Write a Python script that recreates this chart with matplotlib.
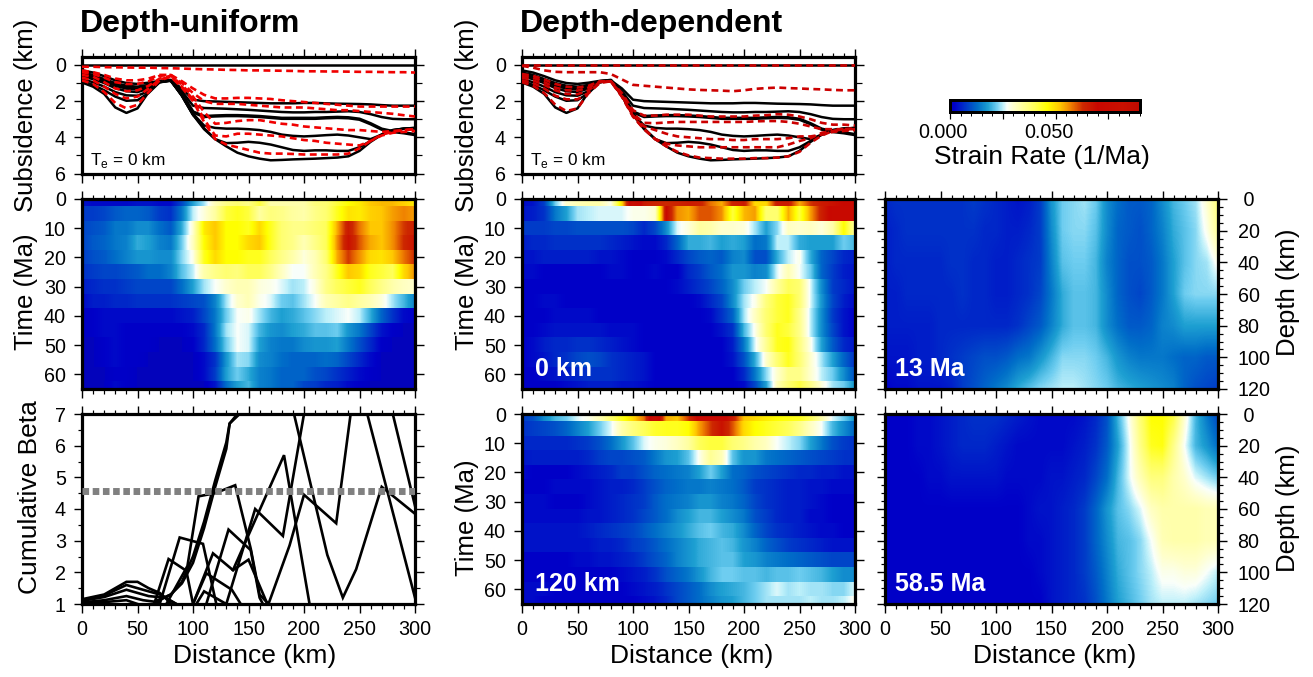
import numpy as np
import matplotlib
matplotlib.use("Agg")
import matplotlib.pyplot as plt
from matplotlib.colors import LinearSegmentedColormap, Normalize
from matplotlib.cm import ScalarMappable
from matplotlib.ticker import MultipleLocator, FixedLocator, FuncFormatter

plt.rcParams['font.family'] = ['Liberation Sans', 'DejaVu Sans']
plt.rcParams['mathtext.fontset'] = 'custom'
plt.rcParams['mathtext.rm'] = 'Liberation Sans'

W, H = 1313, 677

x_km = list(range(0, 310, 10))
times = list(range(0, 70, 5))
depths = [0, 20, 40, 60, 80, 100, 120]

# Subsidence horizons (km), black: forward model
B0 = [0.0] * 31
B1 = [.3,.42,.62,.85,1.0,1.05,.98,.88,.85,1.3,1.92,2.0,2.02,2.04,2.06,2.08,2.1,2.12,2.12,2.12,2.1,2.1,2.12,2.14,2.15,2.16,2.18,2.22,2.25,2.25,2.25]
B2 = [.42,.55,.78,1.0,1.15,1.2,1.1,.9,.85,1.45,2.25,2.38,2.4,2.42,2.45,2.48,2.52,2.56,2.6,2.62,2.62,2.6,2.6,2.58,2.56,2.6,2.72,2.88,2.98,3.0,3.0]
B3 = [.55,.65,.88,1.12,1.28,1.33,1.2,.93,.85,1.6,2.6,2.85,2.82,2.8,2.8,2.82,2.85,2.9,2.95,2.95,2.95,2.95,2.92,2.9,2.92,3.0,3.25,3.55,3.68,3.75,3.85]
B4 = [.65,.78,1.0,1.28,1.45,1.5,1.3,.93,.85,1.65,2.7,3.35,3.48,3.52,3.52,3.55,3.6,3.7,3.85,3.92,3.95,3.92,3.88,3.85,3.9,4.0,4.1,3.85,3.62,3.52,3.5]
B5 = [.8,.95,1.2,1.5,1.68,1.7,1.45,.95,.85,1.7,2.75,3.5,4.1,4.32,4.3,4.25,4.3,4.4,4.55,4.7,4.75,4.72,4.72,4.75,4.75,4.55,4.2,3.85,3.6,3.52,3.48]
B6 = [.9,1.1,1.4,1.75,1.98,1.95,1.55,.95,.85,1.7,2.75]
B7 = [.97,1.2,1.6,2.35,2.65,2.4,1.5,.9,.87,1.7,2.75,3.55,4.1,4.5,4.85,5.05,5.18,5.27,5.25,5.22,5.2,5.18,5.15,5.12,5.05,4.75,4.25,3.85,3.6,3.52,3.48]

# Subsidence, red dashed: depth-uniform
U0 = [.1,.1,.12,.13,.14,.15,.15,.17,.18,.2,.22,.24,.25,.27,.28,.3,.3,.31,.32,.33,.35,.35,.36,.36,.37,.38,.38,.39,.4,.4,.42]
U1 = [.3,.4,.55,.75,.85,.85,.75,.55,.55,.9,1.3,1.65,1.85,1.85,1.82,1.82,1.85,1.88,1.95,2.0,2.05,2.1,2.15,2.2,2.25,2.3,2.3,2.3,2.3,2.3,2.3]
U2 = [.4,.5,.7,.95,1.05,1.05,.9,.6,.55,1.0,1.55,2.0,2.15,2.15,2.15,2.2,2.25,2.3,2.35,2.35,2.35,2.4,2.45,2.5,2.5,2.55,2.6,2.65,2.7,2.78,2.85]
U3 = [.55,.65,.95,1.3,1.45,1.4,1.15,.75,.6,1.1,1.75,2.6,3.25,3.2,3.1,3.05,3.05,3.15,3.25,3.3,3.4,3.45,3.5,3.55,3.6,3.6,3.65,3.7,3.65,3.6,3.55]
U4 = [.7,.85,1.2,1.6,1.85,1.75,1.3,.8,.65,1.2,1.9,3.0,3.9,3.95,3.8,3.8,3.85,3.9,3.95,4.05,4.15,4.2,4.3,4.35,4.4,4.45,4.2,3.9,3.75,3.7,3.65]
U5 = [.85,1.05,1.5,2.1,2.4,2.2,1.5,.85,.65,1.25,2.0,3.15,4.1,4.4,4.55,4.7,4.85,4.9,4.9,4.92,4.95,4.95,4.95,4.95,4.9,4.6,4.2,3.85,3.7,3.6,3.55]

# Subsidence, red dashed: depth-dependent
D0 = [0.0] * 31
D1 = [.05,.15,.3,.38,.4,.4,.4,.4,.5,.8,1.1,1.15,1.2,1.25,1.3,1.35,1.38,1.4,1.42,1.45,1.4,1.32,1.28,1.25,1.28,1.3,1.33,1.35,1.38,1.4,1.4]
D2 = [.5,.6,.8,1.05,1.2,1.25,1.15,.9,.9,1.55,2.5,2.8,2.8,2.75,2.75,2.75,2.8,2.85,2.85,2.85,2.85,2.8,2.78,2.72,2.75,2.85,3.0,3.2,3.3,3.3,3.35]
D3 = [.6,.7,.95,1.25,1.4,1.42,1.25,.93,.9,1.65,2.7,3.2,3.22,3.18,3.15,3.15,3.15,3.15,3.15,3.15,3.15,3.12,3.1,3.1,3.15,3.25,3.4,3.55,3.55,3.55,3.55]
D4 = [.7,.85,1.1,1.4,1.6,1.62,1.4,.95,.9,1.7,2.8,3.4,3.6,3.8,3.95,4.0,4.05,4.1,4.1,4.15,4.15,4.1,4.1,4.1,4.05,3.95,3.95,3.85,3.7,3.65,3.6]
D5 = [.85,1.0,1.3,1.7,1.9,1.9,1.55,1.0,.9,1.75,2.85,3.55,4.1,4.35,4.45,4.5,4.55,4.55,4.55,4.55,4.55,4.55,4.55,4.55,4.4,4.2,4.05,3.75,3.65,3.6,3.55]
D6 = [.95,1.15,1.55,2.2,2.55,2.4,1.55,.95,.9,1.75,2.85,3.55,4.1,4.5,4.8,5.0,5.12,5.15,5.18,5.18,5.18,5.15,5.15,5.12,5.05,4.8,4.3,3.9,3.65,3.55,3.5]

# Cumulative beta polylines as (distance, beta) vertices
beta_lines = [
    ([0,20,40,50,60,70,75,80], [1.15,1.3,1.7,1.7,1.5,1.35,1.2,1.0]),
    ([0,20,40,60,70,85], [1.12,1.27,1.6,1.4,1.3,1.0]),
    ([0,20,40,60,75,85], [1.1,1.22,1.45,1.25,1.2,1.0]),
    ([0,20,40,55,70], [1.05,1.12,1.25,1.12,1.05]),
    ([0,20,40,50], [1.02,1.06,1.12,1.0]),
    ([67,80,90,100,110,120,130,133,142], [1.1,1.3,1.65,2.3,3.4,4.7,5.9,6.7,7.0]),
    ([66,80,90,100,110,120,130,133,140], [1.05,1.3,1.7,2.5,3.6,4.9,6.1,6.7,7.0]),
    ([65,78,94,100], [1.0,2.42,2.05,1.0]),
    ([70,88,109,121], [1.0,3.1,2.9,1.0]),
    ([76,95,105,120,138,152,160,168], [1.0,2.2,4.4,4.5,4.75,2.75,1.3,1.0]),
    ([100,112,135,143], [1.0,1.97,1.45,1.0]),
    ([100,118,136,150,167], [1.0,2.6,2.07,2.4,1.0]),
    ([103,110,130], [1.0,1.4,1.0]),
    ([112,132,152,160,163], [1.0,3.35,2.7,1.2,1.0]),
    ([130,156,181,200], [1.0,4.0,3.15,7.0]),
    ([136,182,205], [2.07,5.7,1.0]),
    ([168,187,200,229,242], [1.0,2.85,4.45,3.55,7.0]),
    ([191,221,235,247,270,300], [7.0,2.55,1.2,2.1,4.7,3.85]),
    ([257,300], [7.0,1.2]),
    ([280,300], [7.0,4.1]),
]
beta_ref = [4.57, 4.57]
beta_ref_x = [0, 300]

# Strain rate grids (1e-3 / Ma): one row per time, one value per x_km
rate_uniform = [
 [4,3,3,3,3,4,4,3,3,9,18,24,32,36,38,36,42,33,33,33,33,37,38,42,46,48,52,53,53,51,48],
 [8,8,9,11,12,12,11,8,7,14,25,29,34,42,44,42,34,37,36,34,33,36,38,44,49,48,51,52,55,57,55],
 [9,10,11,14,14,16,16,13,11,19,30,48,52,46,46,44,50,44,38,36,36,38,40,54,66,58,52,52,56,62,65],
 [9,11,12,14,15,19,18,15,14,22,31,46,52,46,46,50,52,44,38,36,32,36,40,56,68,60,54,52,56,63,68],
 [8,10,11,13,15,17,17,16,16,23,28,44,50,46,46,44,44,40,36,33,29,32,38,54,62,56,50,49,52,58,63],
 [7,8,9,9,10,11,13,13,15,21,25,33,36,38,37,40,40,36,31,27,27,32,36,44,52,50,44,42,40,50,56],
 [5,6,7,7,8,9,9,9,9,13,18,24,27,30,32,32,29,28,26,24,25,29,36,40,42,44,40,36,33,31,30],
 [3,5,5,6,6,7,7,7,7,8,9,10,15,24,30,32,28,26,22,21,24,27,32,34,36,34,32,29,24,20,15],
 [1,2,3,3,3,3,3,3,3,4,5,9,14,22,27,28,24,20,18,19,21,23,25,26,27,25,19,12,7,3,2],
 [1,2,3,3,2,2,2,2,2,2,3,6,14,24,27,26,20,17,16,18,19,21,21,22,17,14,9,4,2,1,1],
 [1,1,2,3,2,2,2,1,1,1,2,6,13,22,27,26,18,15,14,14,16,17,17,18,14,10,6,2,1,1,1],
 [1,1,2,3,2,2,1,1,1,1,1,3,7,17,24,23,16,15,13,12,12,12,13,12,9,6,3,1,1,1,1],
 [1,1,1,2,2,1,1,1,1,1,1,3,8,18,22,19,15,14,12,12,12,10,9,7,5,3,2,1,1,1,1],
 [1,1,1,3,2,1,1,1,1,1,1,1,4,13,18,20,15,14,12,12,9,8,6,5,3,2,1,1,1,1,1],
]
rate_0km = [
 [3,4,8,22,30,32,33,33,28,50,80,66,64,63,64,66,65,58,54,64,66,50,50,66,66,54,62,66,68,70,70],
 [4,5,7,14,18,24,25,26,26,26,28,28,30,70,56,54,60,60,56,42,53,55,38,38,54,42,55,65,72,72,72],
 [8,8,8,9,9,10,10,10,10,10,9,6,9,16,26,29,34,33,30,30,29,24,18,23,31,30,31,29,33,46,34],
 [5,6,6,7,7,7,7,7,6,5,4,3,3,6,12,19,19,20,18,19,18,13,14,25,25,19,18,18,18,22,20],
 [4,4,5,5,5,5,5,4,4,3,2,2,2,3,6,9,11,12,11,15,16,10,10,19,25,28,19,12,9,6,5],
 [3,3,2,2,2,2,2,2,3,3,2,2,3,2,2,6,8,11,13,17,17,15,16,26,32,27,22,12,8,5,4],
 [2,2,2,2,2,2,2,2,2,2,2,2,2,2,3,5,7,9,12,16,22,25,27,34,40,38,26,16,8,6,4],
 [2,2,3,3,2,2,2,2,2,2,2,2,2,2,2,2,3,6,9,16,24,28,37,42,44,38,26,17,9,5,3],
 [2,2,2,3,3,3,3,2,2,2,2,2,2,2,2,2,2,3,7,12,24,31,38,42,44,36,25,16,8,4,2],
 [2,2,3,4,4,4,4,4,3,3,3,2,2,2,2,2,2,2,4,7,20,28,38,44,42,36,25,16,9,4,2],
 [2,3,5,6,6,7,7,6,5,4,3,2,2,2,2,2,2,2,2,5,14,26,35,44,45,37,28,18,11,6,4],
 [2,3,4,6,7,9,10,9,7,6,5,4,2,2,2,2,2,2,2,4,10,19,30,38,44,38,30,24,18,12,7],
 [2,2,3,4,5,6,7,7,7,6,5,4,2,2,2,2,2,2,2,2,6,14,23,30,36,36,30,25,22,16,10],
 [2,2,2,2,3,4,5,5,5,4,4,3,2,2,2,2,2,2,2,2,3,9,18,32,38,42,36,29,24,22,17],
]
rate_120km = [
 [8,10,16,20,22,26,28,32,38,44,50,58,80,54,52,62,72,72,72,66,52,50,48,46,45,44,40,33,26,22,17],
 [7,8,9,10,12,15,18,22,26,33,37,40,43,44,44,46,55,62,68,60,50,46,44,42,40,36,31,27,20,16,12],
 [6,6,6,6,6,7,8,10,13,17,21,26,28,29,31,34,40,42,42,38,36,33,31,27,25,23,18,14,10,8,7],
 [4,5,5,5,5,5,6,8,9,9,10,11,14,17,18,21,28,35,32,21,17,17,14,13,12,11,10,9,8,7,7],
 [3,2,2,2,2,3,4,5,6,8,8,10,12,13,14,15,18,22,18,13,12,10,9,8,7,6,6,5,5,4,4],
 [2,2,2,3,3,3,3,4,5,5,6,8,10,12,13,14,14,15,14,13,11,8,7,6,5,5,4,4,3,3,3],
 [3,3,3,2,2,2,3,4,5,6,7,8,11,13,14,15,17,17,15,14,12,9,7,6,5,5,4,3,2,2,2],
 [3,3,3,3,3,3,4,4,5,6,7,9,11,13,16,18,20,20,18,16,14,10,8,6,5,5,3,3,2,2,2],
 [4,4,4,4,4,4,5,6,7,8,9,11,13,15,17,19,21,22,20,19,16,12,9,7,6,5,4,3,3,2,2],
 [4,4,4,4,4,4,4,5,5,6,8,9,11,13,15,17,19,20,21,20,17,15,12,10,8,7,6,5,4,4,4],
 [2,2,2,2,2,3,3,4,4,5,6,8,10,12,15,17,19,20,21,21,18,17,15,14,13,12,11,10,9,9,9],
 [2,2,2,2,2,2,2,2,2,3,4,5,7,10,12,14,17,20,22,22,21,21,20,21,21,22,21,20,18,16,16],
 [3,3,3,2,2,2,2,2,2,2,3,4,5,7,9,11,13,16,18,19,20,22,24,26,24,25,24,24,23,23,26],
 [3,3,2,2,2,2,2,2,2,2,2,3,4,6,9,11,13,15,17,18,20,22,24,24,24,24,25,24,24,25,28],
]
rate_13ma = [
 [6,7,7,7,7,7,7,7,8,7,6,5,4,5,8,17,22,23,24,22,16,13,11,11,12,16,20,22,24,30,38],
 [5,6,7,7,7,7,7,7,7,6,6,5,5,6,8,16,22,23,23,21,16,12,11,10,12,15,19,21,23,28,35],
 [5,6,6,6,6,6,7,7,6,6,5,5,6,7,8,15,21,22,22,20,15,12,10,10,11,14,18,21,23,24,28],
 [5,5,6,6,6,6,6,7,6,6,5,5,6,7,9,14,19,21,21,20,16,12,10,9,11,14,18,22,23,23,23],
 [5,5,5,5,5,6,6,6,6,6,6,6,7,9,11,15,19,21,21,20,16,13,11,11,12,15,16,18,18,18,18],
 [4,4,4,5,5,6,7,8,9,10,10,11,13,14,17,20,23,23,23,22,20,17,15,14,14,14,13,12,12,11,11],
 [2,3,3,4,4,4,5,8,10,12,14,16,19,21,23,24,25,25,24,23,22,20,19,18,17,16,15,12,10,9,8],
]
rate_58ma = [
 [2,2,2,3,3,4,5,6,7,7,7,6,5,4,3,3,3,3,4,6,10,20,28,38,46,46,42,30,20,14,9],
 [2,2,2,3,3,4,5,6,6,6,5,4,3,3,3,3,3,4,5,7,11,18,26,36,44,45,36,27,20,17,13],
 [2,2,2,2,3,3,4,4,4,4,4,3,3,3,3,4,4,5,6,9,13,20,26,32,37,37,33,30,26,24,22],
 [2,2,2,2,2,2,2,2,2,2,2,2,2,3,4,4,5,6,8,12,17,21,23,26,31,33,33,33,33,32,32],
 [2,2,2,2,2,2,2,2,2,2,2,2,2,3,3,4,5,6,8,12,16,20,21,23,27,32,33,33,33,32,32],
 [2,2,2,2,2,2,2,2,2,2,2,2,2,2,3,4,5,6,8,11,15,19,21,23,25,28,28,29,29,27,25],
 [2,2,2,2,2,2,2,2,2,2,2,2,2,2,2,4,5,6,7,10,14,18,20,22,24,25,25,25,24,23,22],
]

cmap_stops = [
 (0,(26,26,128)),(1,(0,0,195)),(2,(0,0,200)),(8,(0,60,200)),(13,(0,110,200)),(18,(30,160,210)),
 (22,(110,205,240)),(25,(190,240,250)),(27,(250,255,250)),(30,(255,255,205)),
 (40,(255,255,90)),(46,(255,255,0)),(52,(255,200,0)),(57,(240,130,0)),(63,(205,40,0)),
 (70,(200,8,0)),(82,(200,16,0)),(90,(190,10,0)),
]
VMAX = 90.0
cmap = LinearSegmentedColormap.from_list(
    'strain', [(v / VMAX, tuple(c / 255 for c in rgb)) for v, rgb in cmap_stops], N=512)
norm = Normalize(0, VMAX)

fig = plt.figure(figsize=(W / 100, H / 100), dpi=100)

def axpx(x0, y0, x1, y1):
    return fig.add_axes([x0 / W, 1 - y1 / H, (x1 - x0) / W, (y1 - y0) / H])

def fpx(x, y, s, **kw):
    kw.setdefault('ha', 'center')
    kw.setdefault('va', 'center')
    return fig.text(x / W, 1 - y / H, s, **kw)

TICK = 14.2
LAB = 19
px = 0.72

def style(ax, xmaj=50, xmin=10, ymaj=None, ymin=None, xlabels=False, ylabels='left'):
    for s in ax.spines.values():
        s.set_linewidth(3.2 * px)
    ax.set_xlim(0, 300)
    ax.xaxis.set_major_locator(MultipleLocator(xmaj))
    ax.xaxis.set_minor_locator(MultipleLocator(xmin))
    ax.yaxis.set_major_locator(ymaj)
    ax.yaxis.set_minor_locator(ymin)
    ax.tick_params(which='major', direction='out', length=8.5 * px, width=1.4 * px,
                   top=True, bottom=True, left=True, right=True, labelsize=TICK, pad=5.5,
                   labelbottom=xlabels, labelleft=(ylabels == 'left'), labelright=(ylabels == 'right'))
    ax.tick_params(which='minor', direction='out', length=4.5 * px, width=1.2 * px,
                   top=True, bottom=True, left=True, right=True)

def subs(ax, reds, color):
    for y in (B0, B1, B2, B4, B5, B7):
        ax.plot(x_km, y, color='k', lw=1.8, solid_joinstyle='round', zorder=3)
    ax.plot(x_km, B3, color='k', lw=2.5, zorder=3)
    ax.plot(x_km[:11], B6, color='k', lw=1.8, zorder=3)
    for y in reds:
        ax.plot(x_km, y, color=color, lw=1.9, ls=(0, (2.6, 1.7)), zorder=4)
    ax.set_ylim(6, -0.44)
    style(ax, ymaj=FixedLocator([0, 2, 4, 6]), ymin=MultipleLocator(1))
    ax.tick_params(axis='y', which='minor', length=6.5 * px)
    ax.text(7, 5.28, r'T$_{\mathregular{e}}$ = 0 km', fontsize=12.4,
            ha='left', va='center', zorder=5)

def heat_rows(ax, grid, label):
    for i, row in enumerate(grid):
        t0 = times[i] - 2.5
        t1 = times[i] + 2.5
        ax.imshow(np.array(row, float)[None, :], extent=[-5, 305, t1, t0], cmap=cmap, norm=norm,
                  aspect='auto', interpolation='bilinear', zorder=1)
    ax.set_ylim(65, 0)
    style(ax, ymaj=MultipleLocator(10), ymin=MultipleLocator(10))
    if label:
        ax.text(0.04, 0.105, label, transform=ax.transAxes, color='white', fontsize=18,
                fontweight='bold', ha='left', va='center', zorder=5)

def heat_depth(ax, grid, label):
    ax.imshow(np.array(grid, float), extent=[-5, 305, 130, -10], cmap=cmap, norm=norm,
              aspect='auto', interpolation='bilinear', zorder=1)
    ax.set_ylim(120, 0)
    style(ax, ymaj=MultipleLocator(20), ymin=MultipleLocator(5), ylabels='right')
    ax.tick_params(axis='y', which='major', pad=8)
    ax.yaxis.set_major_formatter(FuncFormatter(lambda v, _: ' 0' if v == 0 else f'{v:.0f}'))
    ax.text(0.03, 0.105, label, transform=ax.transAxes, color='white', fontsize=18,
            fontweight='bold', ha='left', va='center', zorder=5)

col1 = (82, 415)
col2 = (522, 855)
col3 = (885, 1218)
r1 = (57, 173.5)
r2 = (199, 389)
r3 = (414, 604)

a11 = axpx(col1[0], r1[0], col1[1], r1[1])
subs(a11, [U0, U1, U2, U3, U4, U5], '#f00000')
a12 = axpx(col2[0], r1[0], col2[1], r1[1])
subs(a12, [D0, D1, D2, D3, D4, D5, D6], '#cc0000')

a21 = axpx(col1[0], r2[0], col1[1], r2[1])
heat_rows(a21, rate_uniform, None)
a22 = axpx(col2[0], r2[0], col2[1], r2[1])
heat_rows(a22, rate_0km, '0 km')
a32 = axpx(col2[0], r3[0], col2[1], r3[1])
heat_rows(a32, rate_120km, '120 km')
a32.tick_params(which='both', labelbottom=True)

a23 = axpx(col3[0], r2[0], col3[1], r2[1])
heat_depth(a23, rate_13ma, '13 Ma')
a33 = axpx(col3[0], r3[0], col3[1], r3[1])
heat_depth(a33, rate_58ma, '58.5 Ma')
a33.tick_params(which='both', labelbottom=True)

a31 = axpx(col1[0], r3[0], col1[1], r3[1])
for xs, ys in beta_lines:
    a31.plot(xs, ys, color='k', lw=1.9, solid_joinstyle='miter', zorder=3)
a31.plot(beta_ref_x, beta_ref, color='#808080', lw=5, ls=(0, (0.95, 0.52)), zorder=4)
a31.set_ylim(1, 7)
style(a31, ymaj=MultipleLocator(1), ymin=MultipleLocator(0.5), xlabels=True)

# colour bar
cax = axpx(950, 100, 1140, 112)
cb = fig.colorbar(ScalarMappable(norm=norm, cmap=cmap), cax=cax, orientation='horizontal')
cb.outline.set_linewidth(3 * px)
cb.set_ticks([0, 25, 50, 75])
cb.ax.xaxis.set_minor_locator(MultipleLocator(5))
cb.ax.tick_params(which='major', length=7 * px, width=1.2 * px, labelbottom=False)
cb.ax.tick_params(which='minor', length=3.5 * px, width=1 * px)
fpx(943, 133, '0.000', fontsize=TICK)
fpx(1049, 133, '0.050', fontsize=TICK)
fpx(1042, 157, 'Strain Rate (1/Ma)', fontsize=LAB)

# titles and labels
fpx(80, 24, 'Depth-uniform', fontsize=23, fontweight='bold', ha='left')
fpx(520, 24, 'Depth-dependent', fontsize=23, fontweight='bold', ha='left')
fpx(26, 115, 'Subsidence (km)', fontsize=LAB - 0.5, rotation=90)
fpx(467, 115, 'Subsidence (km)', fontsize=LAB - 0.5, rotation=90)
fpx(26, 292, 'Time (Ma)', fontsize=LAB - 0.5, rotation=90)
fpx(467, 292, 'Time (Ma)', fontsize=LAB - 0.5, rotation=90)
fpx(467, 518, 'Time (Ma)', fontsize=LAB - 0.5, rotation=90)
fpx(30, 497, 'Cumulative Beta', fontsize=LAB, rotation=90)
fpx(1288, 292, 'Depth (km)', fontsize=LAB - 0.5, rotation=90)
fpx(1288, 508, 'Depth (km)', fontsize=LAB - 0.5, rotation=90)
fpx(255, 656, 'Distance (km)', fontsize=LAB)
fpx(692, 656, 'Distance (km)', fontsize=LAB)
fpx(1055, 656, 'Distance (km)', fontsize=LAB)

fig.savefig('out.png', dpi=100)
